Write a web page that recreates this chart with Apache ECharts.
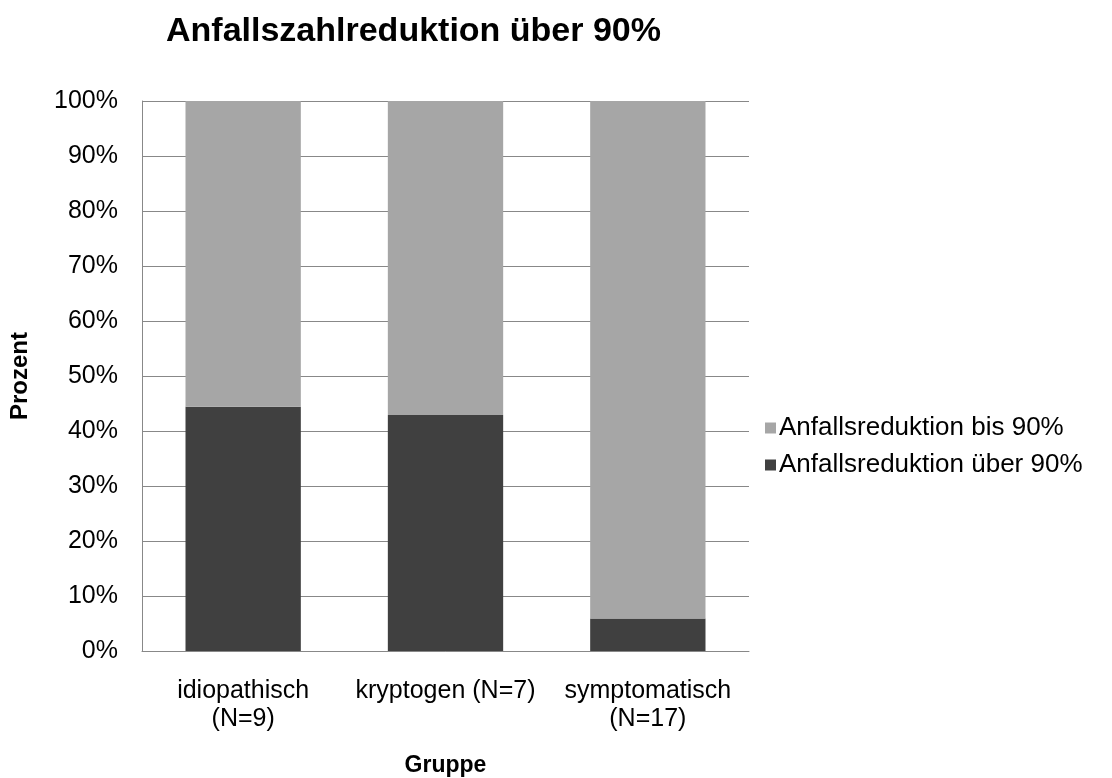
<!DOCTYPE html>
<html><head><meta charset="utf-8">
<script src="https://cdn.jsdelivr.net/npm/echarts@6/dist/echarts.min.js"></script>
<style>html,body{margin:0;padding:0;background:#fff}#c{width:1112px;height:778px}</style>
</head><body><div id="c"></div>
<script>
const categories = ['idiopathisch\n(N=9)', 'kryptogen (N=7)', 'symptomatisch\n(N=17)'];
const ueber90 = [44.4, 42.9, 5.9];
const bis90 = [55.6, 57.1, 94.1];
const seriesNames = ['Anfallsreduktion über 90%', 'Anfallsreduktion bis 90%'];
const F = '"Liberation Sans", Arial, sans-serif';
const chart = echarts.init(document.getElementById('c'), null, {renderer: 'canvas'});
chart.setOption({
  animation: false,
  backgroundColor: '#fff',
  title: {text: 'Anfallszahlreduktion über 90%', left: 161, top: 10,
    textStyle: {fontFamily: F, fontSize: 34, fontWeight: 'bold', color: '#000'}},
  grid: {left: 142, right: 363, top: 101, bottom: 127, containLabel: false, outerBoundsMode: 'none'},
  legend: {orient: 'vertical', left: 760, top: 410, itemWidth: 11, itemHeight: 11, itemGap: 11,
    data: [seriesNames[1], seriesNames[0]], icon: 'rect',
    textStyle: {fontFamily: F, fontSize: 26, color: '#000', padding: [0, 0, 0, -2]}},
  xAxis: {type: 'category', data: categories,
    name: 'Gruppe', nameLocation: 'middle', nameGap: 103,
    nameTextStyle: {fontFamily: F, fontSize: 23, fontWeight: 'bold', color: '#000'},
    axisLine: {lineStyle: {color: '#888', width: 1}}, axisTick: {show: false},
    axisLabel: {fontFamily: F, fontSize: 25, color: '#000', margin: 26, lineHeight: 28, interval: 0}},
  yAxis: {type: 'value', min: 0, max: 100, interval: 10,
    name: 'Prozent', nameLocation: 'middle', nameGap: 110, nameRotate: 90,
    nameTextStyle: {fontFamily: F, fontSize: 24, fontWeight: 'bold', color: '#000'},
    axisLine: {show: true, lineStyle: {color: '#888', width: 1}}, axisTick: {show: false},
    axisLabel: {fontFamily: F, fontSize: 25, color: '#000', margin: 24, formatter: '{value}%'},
    splitLine: {lineStyle: {color: '#888', width: 1}}},
  series: [
    {name: seriesNames[0], type: 'bar', stack: 's', data: ueber90, barWidth: '57%',
      itemStyle: {color: '#404040'}},
    {name: seriesNames[1], type: 'bar', stack: 's', data: bis90, barWidth: '57%',
      itemStyle: {color: '#a6a6a6'}}
  ]
});
</script></body></html>
